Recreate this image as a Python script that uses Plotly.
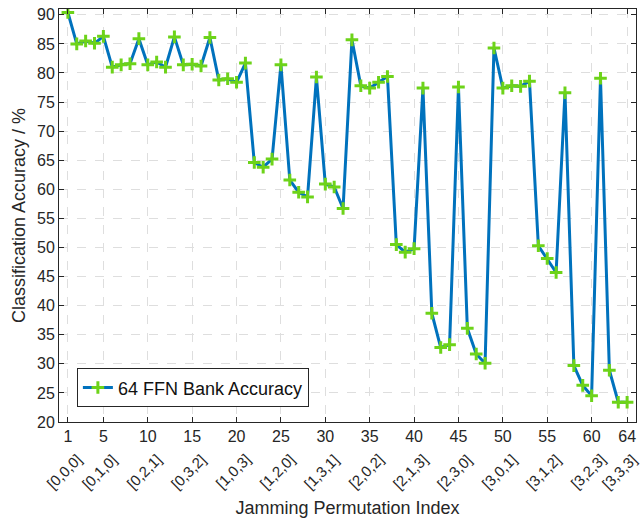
import plotly.graph_objects as go

# Jamming permutation index (1..64) and classification accuracy in percent
perm_index = list(range(1, 65))
accuracy = [
    90.4, 85.0, 85.5, 85.1, 86.3, 81.0, 81.4, 81.6, 85.9, 81.4,
    81.9, 81.0, 86.2, 81.4, 81.5, 81.2, 86.1, 78.8, 79.0, 78.4,
    81.7, 64.6, 63.8, 65.2, 81.4, 61.6, 59.5, 58.7, 79.3, 60.9,
    60.4, 56.7, 85.7, 77.8, 77.4, 78.4, 79.4, 50.5, 49.2, 49.8,
    77.4, 38.7, 32.8, 33.3, 77.6, 36.1, 31.7, 30.1, 84.3, 77.4,
    77.8, 77.7, 78.6, 50.3, 48.1, 45.7, 76.6, 29.7, 26.3, 24.5,
    79.1, 28.9, 23.4, 23.4,
]

# Tick positions, numeric labels and the jamming triplets shown beneath them
x_ticks = [1, 5, 10, 15, 20, 25, 30, 35, 40, 45, 50, 55, 60, 64]
x_tick_text = [str(v) for v in x_ticks]
perm_labels = [
    "[0,0,0]", "[0,1,0]", "[0,2,1]", "[0,3,2]", "[1,0,3]", "[1,2,0]", "[1,3,1]",
    "[2,0,2]", "[2,1,3]", "[2,3,0]", "[3,0,1]", "[3,1,2]", "[3,2,3]", "[3,3,3]",
]
y_ticks = list(range(20, 95, 5))

FONT = "Liberation Sans, Arial, sans-serif"
TXT = "#262626"
LINE_BLUE = "#0072BD"
MARK_GREEN = "#6DD319"
GRID = "#dedede"

fig = go.Figure()
fig.add_trace(go.Scatter(
    x=perm_index,
    y=accuracy,
    mode="lines+markers",
    name="64 FFN Bank Accuracy",
    line=dict(color=LINE_BLUE, width=3),
    marker=dict(symbol="cross-thin", size=9, color=MARK_GREEN,
                line=dict(color=MARK_GREEN, width=3)),
))

axis_common = dict(
    showline=True, linecolor=TXT, linewidth=1, mirror="ticks",
    ticks="inside", ticklen=5, tickcolor=TXT, tickwidth=1,
    showgrid=True, gridcolor=GRID, griddash="dash", gridwidth=1,
    zeroline=False,
    tickfont=dict(family=FONT, size=16, color=TXT),
)

fig.update_xaxes(
    range=[0, 65],
    tickmode="array", tickvals=x_ticks, ticktext=x_tick_text,
    title=dict(text="Jamming Permutation Index",
               font=dict(family=FONT, size=18, color=TXT), standoff=57),
    **axis_common,
)
fig.update_yaxes(
    range=[20, 91],
    tickmode="array", tickvals=y_ticks,
    title=dict(text="Classification Accuracy / %",
               font=dict(family=FONT, size=18, color=TXT), standoff=6),
    **axis_common,
)

# Rotated permutation triplets under the numeric tick labels;
# the last one is nudged left so it stays inside the page.
for i, (xv, lab) in enumerate(zip(x_ticks, perm_labels)):
    shift = -8 if i == len(x_ticks) - 1 else -4
    fig.add_annotation(
        x=xv, y=0, xref="x", yref="paper",
        text=lab, showarrow=False, textangle=-45,
        xanchor="center", yanchor="middle",
        xshift=shift, yshift=-49, borderpad=0,
        font=dict(family=FONT, size=15, color=TXT),
    )

fig.update_layout(
    width=642, height=520,
    margin=dict(l=59, r=6, t=9, b=98),
    paper_bgcolor="white", plot_bgcolor="white",
    showlegend=True,
    legend=dict(
        x=0.031, y=0.13, xanchor="left", yanchor="top",
        bgcolor="white", bordercolor=TXT, borderwidth=1,
        font=dict(family=FONT, size=18, color="#111111"),
        itemwidth=30, tracegroupgap=0,
    ),
)

fig.write_html("out.html")
